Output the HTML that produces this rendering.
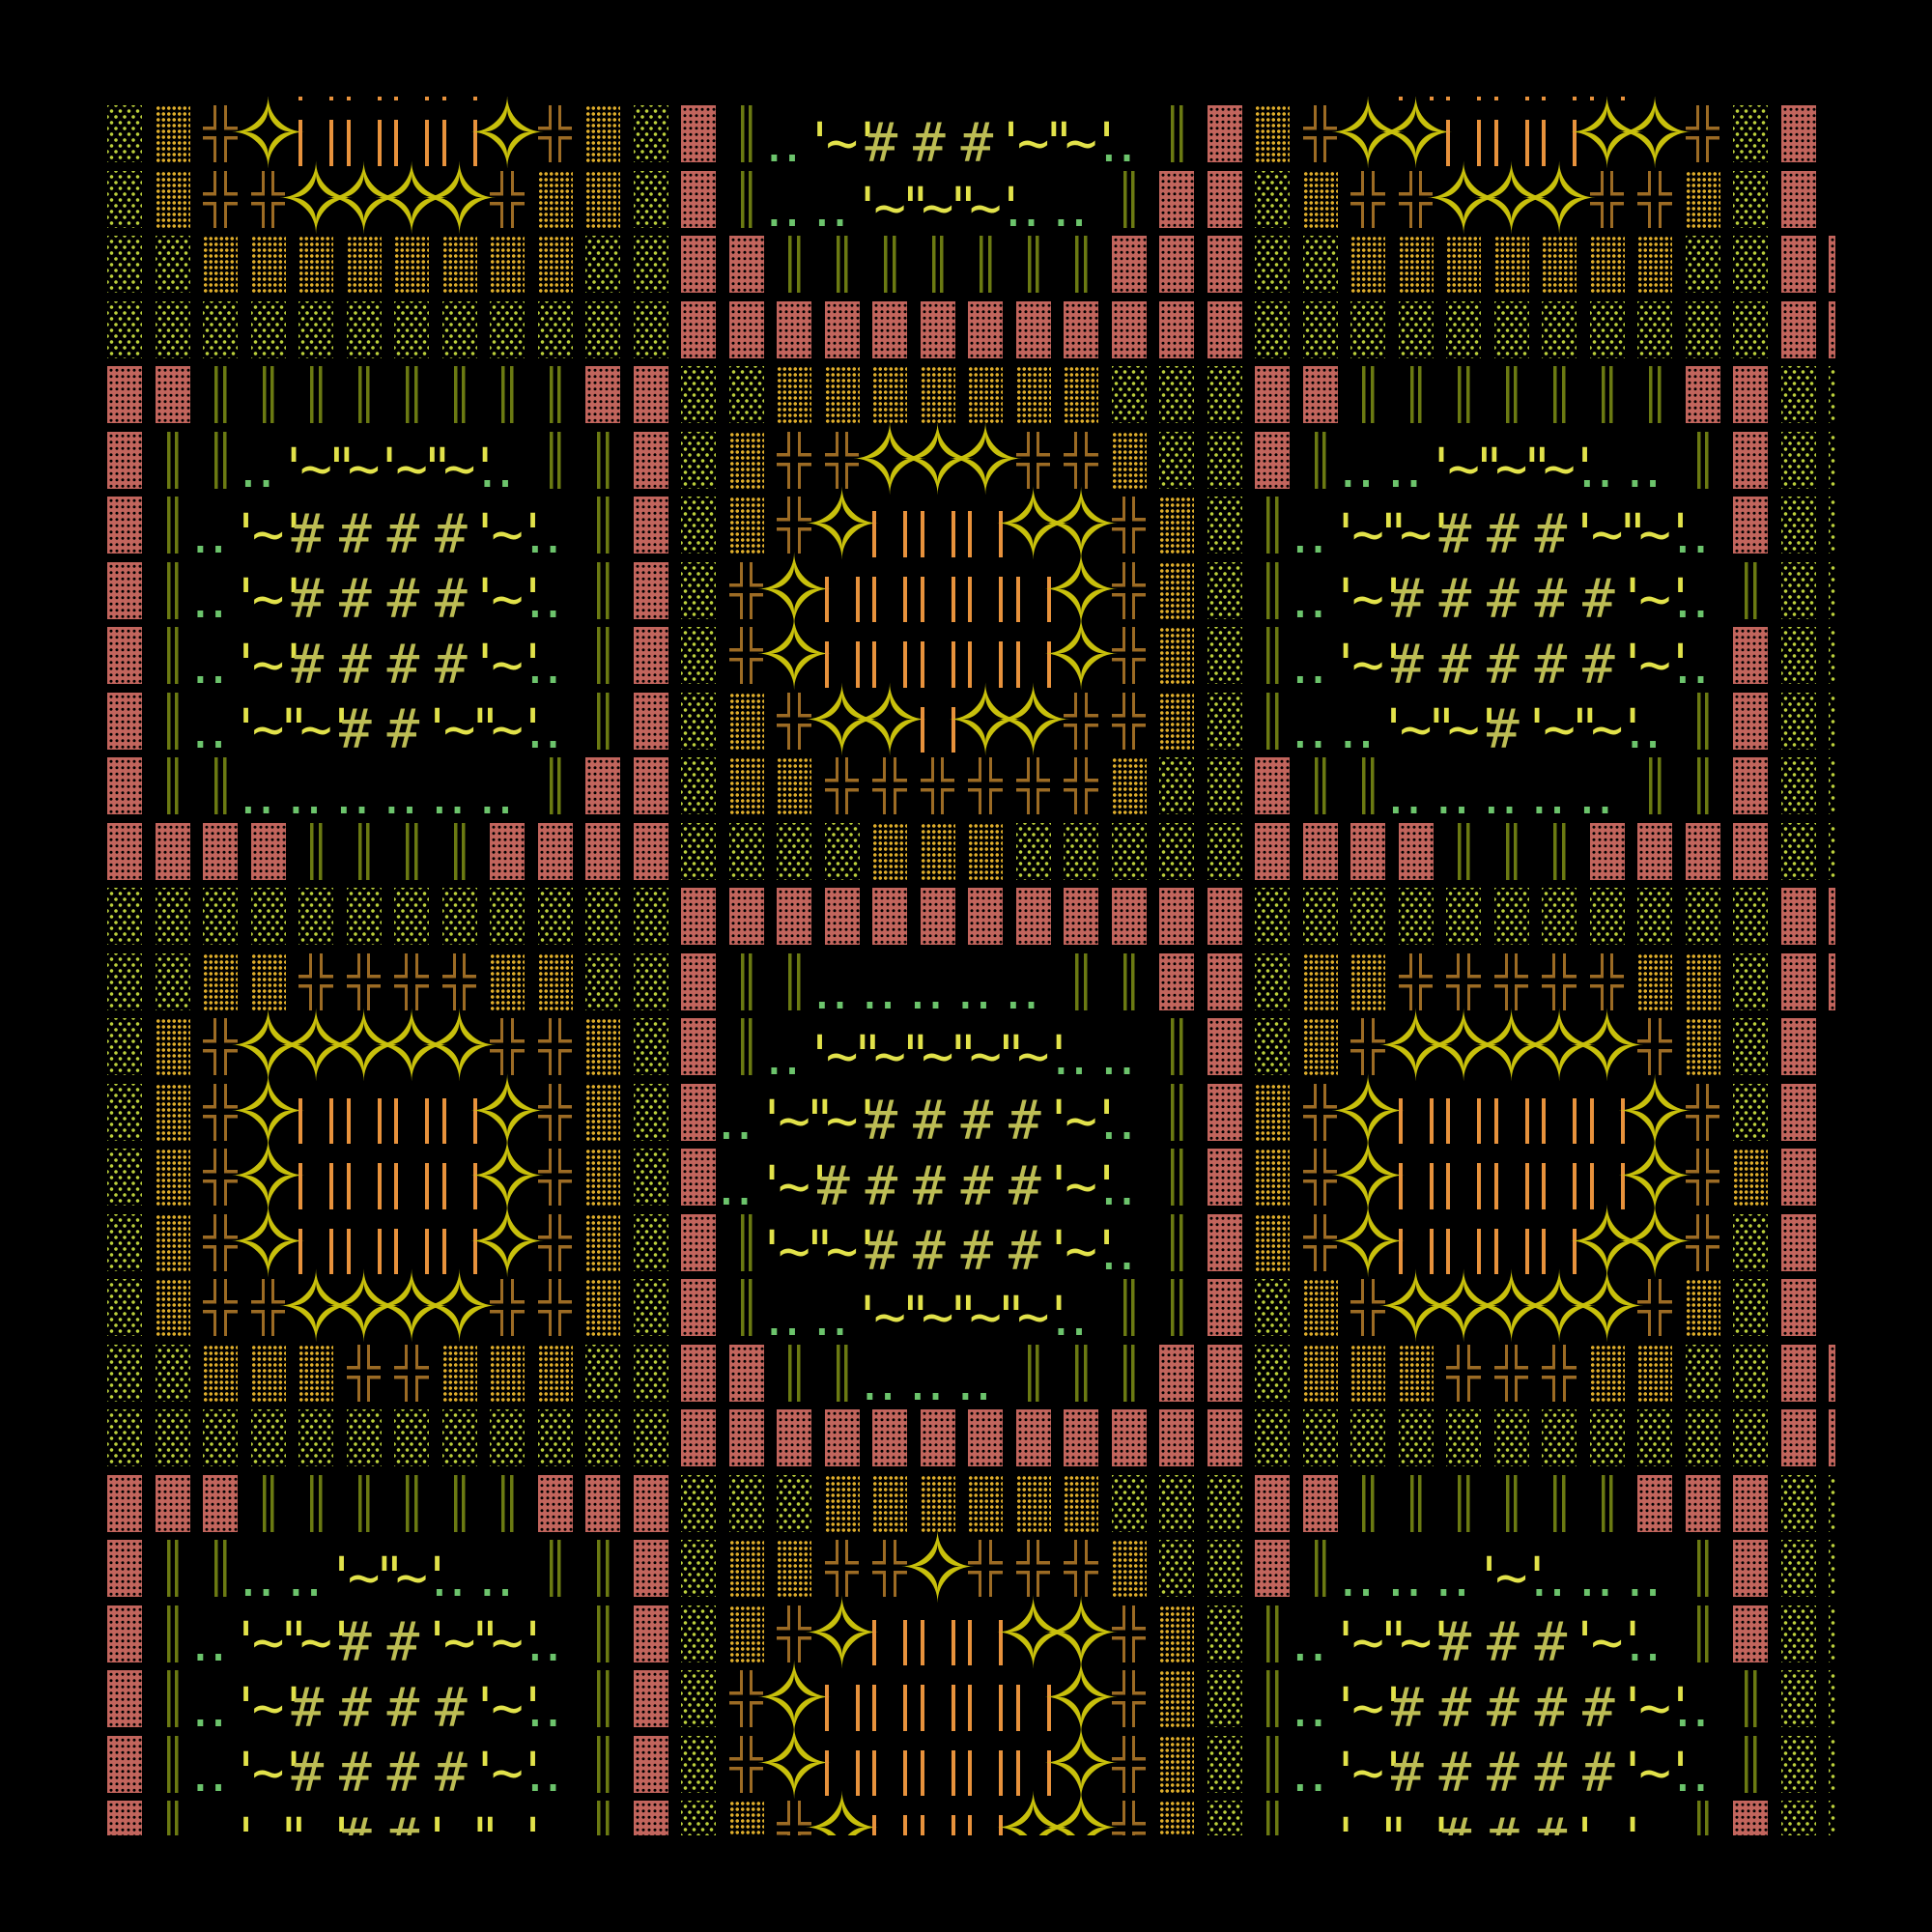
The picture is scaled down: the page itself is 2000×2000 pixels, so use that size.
<!DOCTYPE html>
<html><head><meta charset="utf-8"><style>
html,body{margin:0;background:#000;width:2000px;height:2000px;overflow:hidden}
#c{position:absolute;left:100px;top:100px;width:1800px;height:1800px;overflow:hidden}
.r{position:absolute;left:4.25px;display:flex;height:67.5px}
.r i{flex:none;width:49.5px;height:67.5px;position:relative;font-style:normal;display:block}
.P::before,.O::before,.Y::before{content:"";position:absolute;left:6.75px;top:5px;width:36px;height:59px}
.P::before{background:radial-gradient(circle,#000 1.3px,transparent 1.7px) 1px 1px/6px 6.5px,#c2655d}
.O::before{background:radial-gradient(circle,#bcd03c 1.6px,transparent 2px) 0 0/9px 12px,radial-gradient(circle,#bcd03c 1.6px,transparent 2px) 4.5px 6px/9px 12px}
.Y::before{background:radial-gradient(circle,#e0ae2c 1.6px,transparent 2px) 0 0/5.5px 6px}
.V{background:linear-gradient(#6b7a12,#6b7a12) 18.75px 5px/3.5px 59px no-repeat,linear-gradient(#6b7a12,#6b7a12) 27.5px 5px/3.5px 59px no-repeat}
.B{background:linear-gradient(#e8923c,#e8923c) 6.75px 20px/4px 58px no-repeat,linear-gradient(#e8923c,#e8923c) 38.75px 20px/4px 58px no-repeat}
.X{background:
linear-gradient(#9c6b24,#9c6b24) 18px 5px/3px 25.5px no-repeat,
linear-gradient(#9c6b24,#9c6b24) 18px 37px/3px 27px no-repeat,
linear-gradient(#9c6b24,#9c6b24) 28.5px 5px/3px 25.5px no-repeat,
linear-gradient(#9c6b24,#9c6b24) 28.5px 37px/3px 27px no-repeat,
linear-gradient(#9c6b24,#9c6b24) 6.75px 27px/14.25px 3.5px no-repeat,
linear-gradient(#9c6b24,#9c6b24) 28.5px 27px/14.25px 3.5px no-repeat,
linear-gradient(#9c6b24,#9c6b24) 6.75px 37px/14.25px 3.5px no-repeat,
linear-gradient(#9c6b24,#9c6b24) 28.5px 37px/14.25px 3.5px no-repeat}
s{position:absolute;top:16.6px;font:56px/56px "DejaVu Sans Mono","Liberation Mono",monospace;text-decoration:none;white-space:pre}
.q{left:-15px;color:#e2e24a}.t{left:8px;color:#e2e24a}.h{left:-0.8px;color:#bcbc54}.d{left:-5.3px;color:#6cc46c}
u{position:absolute;top:-15px;left:-40px;width:129.5px;text-align:center;font:100px/100px "DejaVu Sans",sans-serif;color:#c8c00c;text-decoration:none}
</style></head><body><div id="c">

<div class="r" style="top:-63.5px"><i></i><i></i><i></i><i></i><i class=B></i><i class=B></i><i class=B></i><i class=B></i><i></i><i></i><i></i><i></i><i></i><i></i><i><s class=d>‥</s></i><i></i><i></i><i></i><i></i><i></i><i></i><i><s class=d>‥</s></i><i></i><i></i><i></i><i></i><i></i><i class=B></i><i class=B></i><i class=B></i><i class=B></i><i class=B></i><i></i><i></i><i></i><i></i><i></i></div>

<div class="r" style="top:4px"><i class=O></i><i class=Y></i><i class=X></i><i><u>✧</u></i><i class=B></i><i class=B></i><i class=B></i><i class=B></i><i><u>✧</u></i><i class=X></i><i class=Y></i><i class=O></i><i class=P></i><i class=V></i><i><s class=d>‥</s></i><i><s class=q>'</s><s class=t>~</s></i><i><s class=q>'</s><s class=h>#</s></i><i><s class=h>#</s></i><i><s class=h>#</s></i><i><s class=q>'</s><s class=t>~</s></i><i><s class=q>"</s><s class=t>~</s></i><i><s class=q>'</s><s class=d>‥</s></i><i class=V></i><i class=P></i><i class=Y></i><i class=X></i><i><u>✧</u></i><i><u>✧</u></i><i class=B></i><i class=B></i><i class=B></i><i><u>✧</u></i><i><u>✧</u></i><i class=X></i><i class=O></i><i class=P></i><i></i></div>

<div class="r" style="top:71.5px"><i class=O></i><i class=Y></i><i class=X></i><i class=X></i><i><u>✧</u></i><i><u>✧</u></i><i><u>✧</u></i><i><u>✧</u></i><i class=X></i><i class=Y></i><i class=Y></i><i class=O></i><i class=P></i><i class=V></i><i><s class=d>‥</s></i><i><s class=d>‥</s></i><i><s class=q>'</s><s class=t>~</s></i><i><s class=q>"</s><s class=t>~</s></i><i><s class=q>"</s><s class=t>~</s></i><i><s class=q>'</s><s class=d>‥</s></i><i><s class=d>‥</s></i><i class=V></i><i class=P></i><i class=P></i><i class=O></i><i class=Y></i><i class=X></i><i class=X></i><i><u>✧</u></i><i><u>✧</u></i><i><u>✧</u></i><i class=X></i><i class=X></i><i class=Y></i><i class=O></i><i class=P></i><i></i></div>

<div class="r" style="top:139px"><i class=O></i><i class=O></i><i class=Y></i><i class=Y></i><i class=Y></i><i class=Y></i><i class=Y></i><i class=Y></i><i class=Y></i><i class=Y></i><i class=O></i><i class=O></i><i class=P></i><i class=P></i><i class=V></i><i class=V></i><i class=V></i><i class=V></i><i class=V></i><i class=V></i><i class=V></i><i class=P></i><i class=P></i><i class=P></i><i class=O></i><i class=O></i><i class=Y></i><i class=Y></i><i class=Y></i><i class=Y></i><i class=Y></i><i class=Y></i><i class=Y></i><i class=O></i><i class=O></i><i class=P></i><i class=P></i></div>

<div class="r" style="top:206.5px"><i class=O></i><i class=O></i><i class=O></i><i class=O></i><i class=O></i><i class=O></i><i class=O></i><i class=O></i><i class=O></i><i class=O></i><i class=O></i><i class=O></i><i class=P></i><i class=P></i><i class=P></i><i class=P></i><i class=P></i><i class=P></i><i class=P></i><i class=P></i><i class=P></i><i class=P></i><i class=P></i><i class=P></i><i class=O></i><i class=O></i><i class=O></i><i class=O></i><i class=O></i><i class=O></i><i class=O></i><i class=O></i><i class=O></i><i class=O></i><i class=O></i><i class=P></i><i class=P></i></div>

<div class="r" style="top:274px"><i class=P></i><i class=P></i><i class=V></i><i class=V></i><i class=V></i><i class=V></i><i class=V></i><i class=V></i><i class=V></i><i class=V></i><i class=P></i><i class=P></i><i class=O></i><i class=O></i><i class=Y></i><i class=Y></i><i class=Y></i><i class=Y></i><i class=Y></i><i class=Y></i><i class=Y></i><i class=O></i><i class=O></i><i class=O></i><i class=P></i><i class=P></i><i class=V></i><i class=V></i><i class=V></i><i class=V></i><i class=V></i><i class=V></i><i class=V></i><i class=P></i><i class=P></i><i class=O></i><i class=O></i></div>

<div class="r" style="top:341.5px"><i class=P></i><i class=V></i><i class=V></i><i><s class=d>‥</s></i><i><s class=q>'</s><s class=t>~</s></i><i><s class=q>"</s><s class=t>~</s></i><i><s class=q>'</s><s class=t>~</s></i><i><s class=q>"</s><s class=t>~</s></i><i><s class=q>'</s><s class=d>‥</s></i><i class=V></i><i class=V></i><i class=P></i><i class=O></i><i class=Y></i><i class=X></i><i class=X></i><i><u>✧</u></i><i><u>✧</u></i><i><u>✧</u></i><i class=X></i><i class=X></i><i class=Y></i><i class=O></i><i class=O></i><i class=P></i><i class=V></i><i><s class=d>‥</s></i><i><s class=d>‥</s></i><i><s class=q>'</s><s class=t>~</s></i><i><s class=q>"</s><s class=t>~</s></i><i><s class=q>"</s><s class=t>~</s></i><i><s class=q>'</s><s class=d>‥</s></i><i><s class=d>‥</s></i><i class=V></i><i class=P></i><i class=O></i><i class=O></i></div>

<div class="r" style="top:409px"><i class=P></i><i class=V></i><i><s class=d>‥</s></i><i><s class=q>'</s><s class=t>~</s></i><i><s class=q>'</s><s class=h>#</s></i><i><s class=h>#</s></i><i><s class=h>#</s></i><i><s class=h>#</s></i><i><s class=q>'</s><s class=t>~</s></i><i><s class=q>'</s><s class=d>‥</s></i><i class=V></i><i class=P></i><i class=O></i><i class=Y></i><i class=X></i><i><u>✧</u></i><i class=B></i><i class=B></i><i class=B></i><i><u>✧</u></i><i><u>✧</u></i><i class=X></i><i class=Y></i><i class=O></i><i class=V></i><i><s class=d>‥</s></i><i><s class=q>'</s><s class=t>~</s></i><i><s class=q>"</s><s class=t>~</s></i><i><s class=q>'</s><s class=h>#</s></i><i><s class=h>#</s></i><i><s class=h>#</s></i><i><s class=q>'</s><s class=t>~</s></i><i><s class=q>"</s><s class=t>~</s></i><i><s class=q>'</s><s class=d>‥</s></i><i class=P></i><i class=O></i><i class=O></i></div>

<div class="r" style="top:476.5px"><i class=P></i><i class=V></i><i><s class=d>‥</s></i><i><s class=q>'</s><s class=t>~</s></i><i><s class=q>'</s><s class=h>#</s></i><i><s class=h>#</s></i><i><s class=h>#</s></i><i><s class=h>#</s></i><i><s class=q>'</s><s class=t>~</s></i><i><s class=q>'</s><s class=d>‥</s></i><i class=V></i><i class=P></i><i class=O></i><i class=X></i><i><u>✧</u></i><i class=B></i><i class=B></i><i class=B></i><i class=B></i><i class=B></i><i><u>✧</u></i><i class=X></i><i class=Y></i><i class=O></i><i class=V></i><i><s class=d>‥</s></i><i><s class=q>'</s><s class=t>~</s></i><i><s class=q>'</s><s class=h>#</s></i><i><s class=h>#</s></i><i><s class=h>#</s></i><i><s class=h>#</s></i><i><s class=h>#</s></i><i><s class=q>'</s><s class=t>~</s></i><i><s class=q>'</s><s class=d>‥</s></i><i class=V></i><i class=O></i><i class=O></i></div>

<div class="r" style="top:544px"><i class=P></i><i class=V></i><i><s class=d>‥</s></i><i><s class=q>'</s><s class=t>~</s></i><i><s class=q>'</s><s class=h>#</s></i><i><s class=h>#</s></i><i><s class=h>#</s></i><i><s class=h>#</s></i><i><s class=q>'</s><s class=t>~</s></i><i><s class=q>'</s><s class=d>‥</s></i><i class=V></i><i class=P></i><i class=O></i><i class=X></i><i><u>✧</u></i><i class=B></i><i class=B></i><i class=B></i><i class=B></i><i class=B></i><i><u>✧</u></i><i class=X></i><i class=Y></i><i class=O></i><i class=V></i><i><s class=d>‥</s></i><i><s class=q>'</s><s class=t>~</s></i><i><s class=q>'</s><s class=h>#</s></i><i><s class=h>#</s></i><i><s class=h>#</s></i><i><s class=h>#</s></i><i><s class=h>#</s></i><i><s class=q>'</s><s class=t>~</s></i><i><s class=q>'</s><s class=d>‥</s></i><i class=P></i><i class=O></i><i class=O></i></div>

<div class="r" style="top:611.5px"><i class=P></i><i class=V></i><i><s class=d>‥</s></i><i><s class=q>'</s><s class=t>~</s></i><i><s class=q>"</s><s class=t>~</s></i><i><s class=q>'</s><s class=h>#</s></i><i><s class=h>#</s></i><i><s class=q>'</s><s class=t>~</s></i><i><s class=q>"</s><s class=t>~</s></i><i><s class=q>'</s><s class=d>‥</s></i><i class=V></i><i class=P></i><i class=O></i><i class=Y></i><i class=X></i><i><u>✧</u></i><i><u>✧</u></i><i class=B></i><i><u>✧</u></i><i><u>✧</u></i><i class=X></i><i class=X></i><i class=Y></i><i class=O></i><i class=V></i><i><s class=d>‥</s></i><i><s class=d>‥</s></i><i><s class=q>'</s><s class=t>~</s></i><i><s class=q>"</s><s class=t>~</s></i><i><s class=q>'</s><s class=h>#</s></i><i><s class=q>'</s><s class=t>~</s></i><i><s class=q>"</s><s class=t>~</s></i><i><s class=q>'</s><s class=d>‥</s></i><i class=V></i><i class=P></i><i class=O></i><i class=O></i></div>

<div class="r" style="top:679px"><i class=P></i><i class=V></i><i class=V></i><i><s class=d>‥</s></i><i><s class=d>‥</s></i><i><s class=d>‥</s></i><i><s class=d>‥</s></i><i><s class=d>‥</s></i><i><s class=d>‥</s></i><i class=V></i><i class=P></i><i class=P></i><i class=O></i><i class=Y></i><i class=Y></i><i class=X></i><i class=X></i><i class=X></i><i class=X></i><i class=X></i><i class=X></i><i class=Y></i><i class=O></i><i class=O></i><i class=P></i><i class=V></i><i class=V></i><i><s class=d>‥</s></i><i><s class=d>‥</s></i><i><s class=d>‥</s></i><i><s class=d>‥</s></i><i><s class=d>‥</s></i><i class=V></i><i class=V></i><i class=P></i><i class=O></i><i class=O></i></div>

<div class="r" style="top:746.5px"><i class=P></i><i class=P></i><i class=P></i><i class=P></i><i class=V></i><i class=V></i><i class=V></i><i class=V></i><i class=P></i><i class=P></i><i class=P></i><i class=P></i><i class=O></i><i class=O></i><i class=O></i><i class=O></i><i class=Y></i><i class=Y></i><i class=Y></i><i class=O></i><i class=O></i><i class=O></i><i class=O></i><i class=O></i><i class=P></i><i class=P></i><i class=P></i><i class=P></i><i class=V></i><i class=V></i><i class=V></i><i class=P></i><i class=P></i><i class=P></i><i class=P></i><i class=O></i><i class=O></i></div>

<div class="r" style="top:814px"><i class=O></i><i class=O></i><i class=O></i><i class=O></i><i class=O></i><i class=O></i><i class=O></i><i class=O></i><i class=O></i><i class=O></i><i class=O></i><i class=O></i><i class=P></i><i class=P></i><i class=P></i><i class=P></i><i class=P></i><i class=P></i><i class=P></i><i class=P></i><i class=P></i><i class=P></i><i class=P></i><i class=P></i><i class=O></i><i class=O></i><i class=O></i><i class=O></i><i class=O></i><i class=O></i><i class=O></i><i class=O></i><i class=O></i><i class=O></i><i class=O></i><i class=P></i><i class=P></i></div>

<div class="r" style="top:881.5px"><i class=O></i><i class=O></i><i class=Y></i><i class=Y></i><i class=X></i><i class=X></i><i class=X></i><i class=X></i><i class=Y></i><i class=Y></i><i class=O></i><i class=O></i><i class=P></i><i class=V></i><i class=V></i><i><s class=d>‥</s></i><i><s class=d>‥</s></i><i><s class=d>‥</s></i><i><s class=d>‥</s></i><i><s class=d>‥</s></i><i class=V></i><i class=V></i><i class=P></i><i class=P></i><i class=O></i><i class=Y></i><i class=Y></i><i class=X></i><i class=X></i><i class=X></i><i class=X></i><i class=X></i><i class=Y></i><i class=Y></i><i class=O></i><i class=P></i><i class=P></i></div>

<div class="r" style="top:949px"><i class=O></i><i class=Y></i><i class=X></i><i><u>✧</u></i><i><u>✧</u></i><i><u>✧</u></i><i><u>✧</u></i><i><u>✧</u></i><i class=X></i><i class=X></i><i class=Y></i><i class=O></i><i class=P></i><i class=V></i><i><s class=d>‥</s></i><i><s class=q>'</s><s class=t>~</s></i><i><s class=q>"</s><s class=t>~</s></i><i><s class=q>"</s><s class=t>~</s></i><i><s class=q>"</s><s class=t>~</s></i><i><s class=q>"</s><s class=t>~</s></i><i><s class=q>'</s><s class=d>‥</s></i><i><s class=d>‥</s></i><i class=V></i><i class=P></i><i class=O></i><i class=Y></i><i class=X></i><i><u>✧</u></i><i><u>✧</u></i><i><u>✧</u></i><i><u>✧</u></i><i><u>✧</u></i><i class=X></i><i class=Y></i><i class=O></i><i class=P></i><i></i></div>

<div class="r" style="top:1016.5px"><i class=O></i><i class=Y></i><i class=X></i><i><u>✧</u></i><i class=B></i><i class=B></i><i class=B></i><i class=B></i><i><u>✧</u></i><i class=X></i><i class=Y></i><i class=O></i><i class=P></i><i><s class=d>‥</s></i><i><s class=q>'</s><s class=t>~</s></i><i><s class=q>"</s><s class=t>~</s></i><i><s class=q>'</s><s class=h>#</s></i><i><s class=h>#</s></i><i><s class=h>#</s></i><i><s class=h>#</s></i><i><s class=q>'</s><s class=t>~</s></i><i><s class=q>'</s><s class=d>‥</s></i><i class=V></i><i class=P></i><i class=Y></i><i class=X></i><i><u>✧</u></i><i class=B></i><i class=B></i><i class=B></i><i class=B></i><i class=B></i><i><u>✧</u></i><i class=X></i><i class=O></i><i class=P></i><i></i></div>

<div class="r" style="top:1084px"><i class=O></i><i class=Y></i><i class=X></i><i><u>✧</u></i><i class=B></i><i class=B></i><i class=B></i><i class=B></i><i><u>✧</u></i><i class=X></i><i class=Y></i><i class=O></i><i class=P></i><i><s class=d>‥</s></i><i><s class=q>'</s><s class=t>~</s></i><i><s class=q>'</s><s class=h>#</s></i><i><s class=h>#</s></i><i><s class=h>#</s></i><i><s class=h>#</s></i><i><s class=h>#</s></i><i><s class=q>'</s><s class=t>~</s></i><i><s class=q>'</s><s class=d>‥</s></i><i class=V></i><i class=P></i><i class=Y></i><i class=X></i><i><u>✧</u></i><i class=B></i><i class=B></i><i class=B></i><i class=B></i><i class=B></i><i><u>✧</u></i><i class=X></i><i class=Y></i><i class=P></i><i></i></div>

<div class="r" style="top:1151.5px"><i class=O></i><i class=Y></i><i class=X></i><i><u>✧</u></i><i class=B></i><i class=B></i><i class=B></i><i class=B></i><i><u>✧</u></i><i class=X></i><i class=Y></i><i class=O></i><i class=P></i><i class=V></i><i><s class=q>'</s><s class=t>~</s></i><i><s class=q>"</s><s class=t>~</s></i><i><s class=q>'</s><s class=h>#</s></i><i><s class=h>#</s></i><i><s class=h>#</s></i><i><s class=h>#</s></i><i><s class=q>'</s><s class=t>~</s></i><i><s class=q>'</s><s class=d>‥</s></i><i class=V></i><i class=P></i><i class=Y></i><i class=X></i><i><u>✧</u></i><i class=B></i><i class=B></i><i class=B></i><i class=B></i><i><u>✧</u></i><i><u>✧</u></i><i class=X></i><i class=O></i><i class=P></i><i></i></div>

<div class="r" style="top:1219px"><i class=O></i><i class=Y></i><i class=X></i><i class=X></i><i><u>✧</u></i><i><u>✧</u></i><i><u>✧</u></i><i><u>✧</u></i><i class=X></i><i class=X></i><i class=Y></i><i class=O></i><i class=P></i><i class=V></i><i><s class=d>‥</s></i><i><s class=d>‥</s></i><i><s class=q>'</s><s class=t>~</s></i><i><s class=q>"</s><s class=t>~</s></i><i><s class=q>"</s><s class=t>~</s></i><i><s class=q>"</s><s class=t>~</s></i><i><s class=q>'</s><s class=d>‥</s></i><i class=V></i><i class=V></i><i class=P></i><i class=O></i><i class=Y></i><i class=X></i><i><u>✧</u></i><i><u>✧</u></i><i><u>✧</u></i><i><u>✧</u></i><i><u>✧</u></i><i class=X></i><i class=Y></i><i class=O></i><i class=P></i><i></i></div>

<div class="r" style="top:1286.5px"><i class=O></i><i class=O></i><i class=Y></i><i class=Y></i><i class=Y></i><i class=X></i><i class=X></i><i class=Y></i><i class=Y></i><i class=Y></i><i class=O></i><i class=O></i><i class=P></i><i class=P></i><i class=V></i><i class=V></i><i><s class=d>‥</s></i><i><s class=d>‥</s></i><i><s class=d>‥</s></i><i class=V></i><i class=V></i><i class=V></i><i class=P></i><i class=P></i><i class=O></i><i class=Y></i><i class=Y></i><i class=Y></i><i class=X></i><i class=X></i><i class=X></i><i class=Y></i><i class=Y></i><i class=O></i><i class=O></i><i class=P></i><i class=P></i></div>

<div class="r" style="top:1354px"><i class=O></i><i class=O></i><i class=O></i><i class=O></i><i class=O></i><i class=O></i><i class=O></i><i class=O></i><i class=O></i><i class=O></i><i class=O></i><i class=O></i><i class=P></i><i class=P></i><i class=P></i><i class=P></i><i class=P></i><i class=P></i><i class=P></i><i class=P></i><i class=P></i><i class=P></i><i class=P></i><i class=P></i><i class=O></i><i class=O></i><i class=O></i><i class=O></i><i class=O></i><i class=O></i><i class=O></i><i class=O></i><i class=O></i><i class=O></i><i class=O></i><i class=P></i><i class=P></i></div>

<div class="r" style="top:1421.5px"><i class=P></i><i class=P></i><i class=P></i><i class=V></i><i class=V></i><i class=V></i><i class=V></i><i class=V></i><i class=V></i><i class=P></i><i class=P></i><i class=P></i><i class=O></i><i class=O></i><i class=O></i><i class=Y></i><i class=Y></i><i class=Y></i><i class=Y></i><i class=Y></i><i class=Y></i><i class=O></i><i class=O></i><i class=O></i><i class=P></i><i class=P></i><i class=V></i><i class=V></i><i class=V></i><i class=V></i><i class=V></i><i class=V></i><i class=P></i><i class=P></i><i class=P></i><i class=O></i><i class=O></i></div>

<div class="r" style="top:1489px"><i class=P></i><i class=V></i><i class=V></i><i><s class=d>‥</s></i><i><s class=d>‥</s></i><i><s class=q>'</s><s class=t>~</s></i><i><s class=q>"</s><s class=t>~</s></i><i><s class=q>'</s><s class=d>‥</s></i><i><s class=d>‥</s></i><i class=V></i><i class=V></i><i class=P></i><i class=O></i><i class=Y></i><i class=Y></i><i class=X></i><i class=X></i><i><u>✧</u></i><i class=X></i><i class=X></i><i class=X></i><i class=Y></i><i class=O></i><i class=O></i><i class=P></i><i class=V></i><i><s class=d>‥</s></i><i><s class=d>‥</s></i><i><s class=d>‥</s></i><i><s class=q>'</s><s class=t>~</s></i><i><s class=q>'</s><s class=d>‥</s></i><i><s class=d>‥</s></i><i><s class=d>‥</s></i><i class=V></i><i class=P></i><i class=O></i><i class=O></i></div>

<div class="r" style="top:1556.5px"><i class=P></i><i class=V></i><i><s class=d>‥</s></i><i><s class=q>'</s><s class=t>~</s></i><i><s class=q>"</s><s class=t>~</s></i><i><s class=q>'</s><s class=h>#</s></i><i><s class=h>#</s></i><i><s class=q>'</s><s class=t>~</s></i><i><s class=q>"</s><s class=t>~</s></i><i><s class=q>'</s><s class=d>‥</s></i><i class=V></i><i class=P></i><i class=O></i><i class=Y></i><i class=X></i><i><u>✧</u></i><i class=B></i><i class=B></i><i class=B></i><i><u>✧</u></i><i><u>✧</u></i><i class=X></i><i class=Y></i><i class=O></i><i class=V></i><i><s class=d>‥</s></i><i><s class=q>'</s><s class=t>~</s></i><i><s class=q>"</s><s class=t>~</s></i><i><s class=q>'</s><s class=h>#</s></i><i><s class=h>#</s></i><i><s class=h>#</s></i><i><s class=q>'</s><s class=t>~</s></i><i><s class=q>'</s><s class=d>‥</s></i><i class=V></i><i class=P></i><i class=O></i><i class=O></i></div>

<div class="r" style="top:1624px"><i class=P></i><i class=V></i><i><s class=d>‥</s></i><i><s class=q>'</s><s class=t>~</s></i><i><s class=q>'</s><s class=h>#</s></i><i><s class=h>#</s></i><i><s class=h>#</s></i><i><s class=h>#</s></i><i><s class=q>'</s><s class=t>~</s></i><i><s class=q>'</s><s class=d>‥</s></i><i class=V></i><i class=P></i><i class=O></i><i class=X></i><i><u>✧</u></i><i class=B></i><i class=B></i><i class=B></i><i class=B></i><i class=B></i><i><u>✧</u></i><i class=X></i><i class=Y></i><i class=O></i><i class=V></i><i><s class=d>‥</s></i><i><s class=q>'</s><s class=t>~</s></i><i><s class=q>'</s><s class=h>#</s></i><i><s class=h>#</s></i><i><s class=h>#</s></i><i><s class=h>#</s></i><i><s class=h>#</s></i><i><s class=q>'</s><s class=t>~</s></i><i><s class=q>'</s><s class=d>‥</s></i><i class=V></i><i class=O></i><i class=O></i></div>

<div class="r" style="top:1691.5px"><i class=P></i><i class=V></i><i><s class=d>‥</s></i><i><s class=q>'</s><s class=t>~</s></i><i><s class=q>'</s><s class=h>#</s></i><i><s class=h>#</s></i><i><s class=h>#</s></i><i><s class=h>#</s></i><i><s class=q>'</s><s class=t>~</s></i><i><s class=q>'</s><s class=d>‥</s></i><i class=V></i><i class=P></i><i class=O></i><i class=X></i><i><u>✧</u></i><i class=B></i><i class=B></i><i class=B></i><i class=B></i><i class=B></i><i><u>✧</u></i><i class=X></i><i class=Y></i><i class=O></i><i class=V></i><i><s class=d>‥</s></i><i><s class=q>'</s><s class=t>~</s></i><i><s class=q>'</s><s class=h>#</s></i><i><s class=h>#</s></i><i><s class=h>#</s></i><i><s class=h>#</s></i><i><s class=h>#</s></i><i><s class=q>'</s><s class=t>~</s></i><i><s class=q>'</s><s class=d>‥</s></i><i class=V></i><i class=O></i><i class=O></i></div>

<div class="r" style="top:1759px"><i class=P></i><i class=V></i><i></i><i><s class=q>'</s><s class=t>~</s></i><i><s class=q>"</s><s class=t>~</s></i><i><s class=q>'</s><s class=h>#</s></i><i><s class=h>#</s></i><i><s class=q>'</s><s class=t>~</s></i><i><s class=q>"</s><s class=t>~</s></i><i><s class=q>'</s><s class=d>‥</s></i><i class=V></i><i class=P></i><i class=O></i><i class=Y></i><i class=X></i><i><u>✧</u></i><i class=B></i><i class=B></i><i class=B></i><i><u>✧</u></i><i><u>✧</u></i><i class=X></i><i class=Y></i><i class=O></i><i class=V></i><i></i><i><s class=q>'</s><s class=t>~</s></i><i><s class=q>"</s><s class=t>~</s></i><i><s class=q>'</s><s class=h>#</s></i><i><s class=h>#</s></i><i><s class=h>#</s></i><i><s class=q>'</s><s class=t>~</s></i><i><s class=q>'</s><s class=d>‥</s></i><i class=V></i><i class=P></i><i class=O></i><i class=O></i></div>

</div></body></html>
